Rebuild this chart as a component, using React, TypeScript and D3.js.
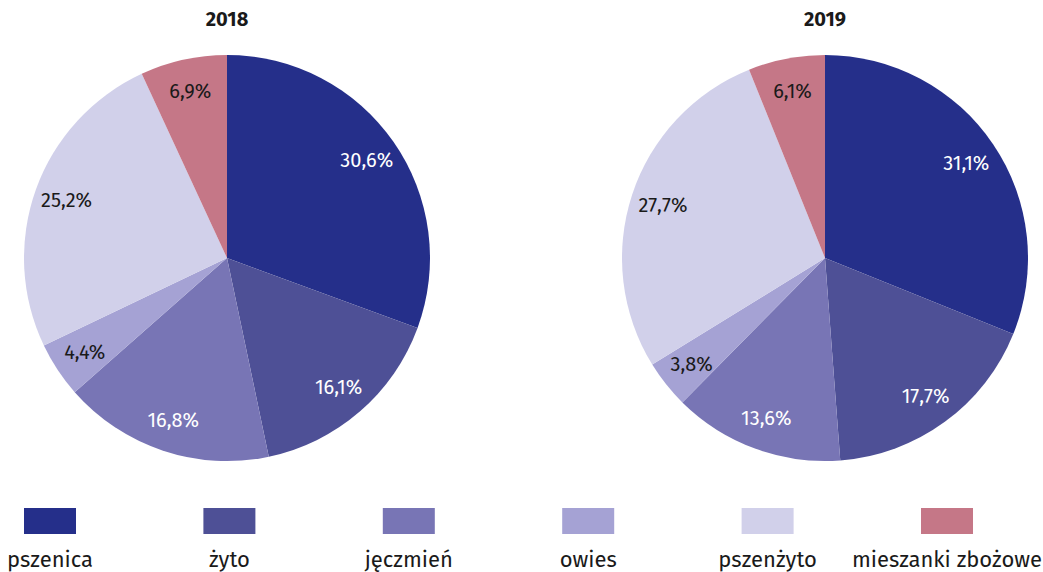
import React from "react";
import * as d3 from "d3";

const categories = ["pszenica", "żyto", "jęczmień", "owies", "pszenżyto", "mieszanki zbożowe"];
const colors = ["#252f8a", "#4e5096", "#7875b5", "#a5a2d4", "#d1d0ea", "#c57787"];
const labelColors = ["#ffffff", "#ffffff", "#ffffff", "#1a1a1a", "#1a1a1a", "#1a1a1a"];
const years = ["2018", "2019"];
const values2018 = [30.6, 16.1, 16.8, 4.4, 25.2, 6.9];
const values2019 = [31.1, 17.7, 13.6, 3.8, 27.7, 6.1];
const seriesValues = [values2018, values2019];

const W = 1043;
const H = 572;
const R = 203;
const centers = [227, 825];
const cy = 258;
const font = "'Fira Sans', 'Noto Sans', sans-serif";

const fmt = (v: number) => v.toFixed(1).replace(".", ",") + "%";

function Pie({ values, cx, title }: { values: number[]; cx: number; title: string }) {
  const pie = d3.pie<number>().sort(null).value((d) => d)(values);
  const arc = d3.arc<d3.PieArcDatum<number>>().innerRadius(0).outerRadius(R);
  const labelArc = d3.arc<d3.PieArcDatum<number>>().innerRadius(R * 0.84).outerRadius(R * 0.84);
  return (
    <g>
      <text x={cx} y={26} textAnchor="middle" fontFamily={font} fontWeight="bold" fontSize={20} fill="#1a1a1a">
        {title}
      </text>
      <g transform={`translate(${cx},${cy})`}>
        {pie.map((p, i) => (
          <path key={i} d={arc(p) || ""} fill={colors[i]} />
        ))}
        {pie.map((p, i) => {
          const [x, y] = labelArc.centroid(p);
          return (
            <text key={"l" + i} x={x} y={y} textAnchor="middle" dominantBaseline="central"
              fontFamily={font} fontSize={20} fill={labelColors[i]}>
              {fmt(p.data)}
            </text>
          );
        })}
      </g>
    </g>
  );
}

export default function App() {
  const legendX = d3.scalePoint<string>().domain(categories).range([50, 947]);
  return (
    <svg width={W} height={H} style={{ position: "absolute", left: 0, top: 0 }}>
      <rect width={W} height={H} fill="#ffffff" />
      {years.map((y, i) => (
        <Pie key={y} values={seriesValues[i]} cx={centers[i]} title={y} />
      ))}
      {categories.map((c, i) => {
        const x = legendX(c) || 0;
        return (
          <g key={c}>
            <rect x={x - 26} y={508} width={52} height={26} fill={colors[i]} />
            <text x={x} y={567} textAnchor="middle" fontFamily={font} fontSize={22} fill="#1a1a1a">
              {c}
            </text>
          </g>
        );
      })}
    </svg>
  );
}
